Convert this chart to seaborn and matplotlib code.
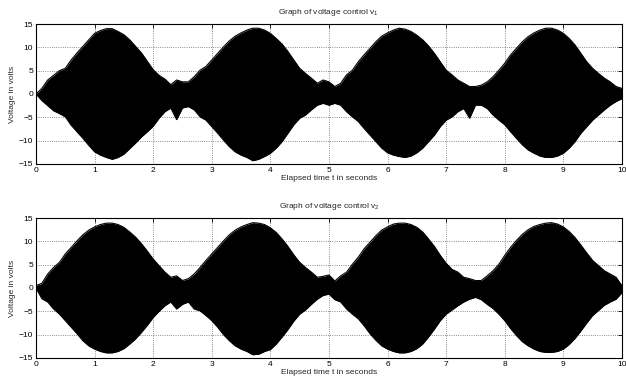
import numpy as np
import pandas as pd
import seaborn as sns
from matplotlib import pyplot as plt

# 时间轴 0 ~ 10 s, 每 0.1 s 读一次包络
t = np.round(np.arange(0, 10.01, 0.1), 1)

# v1 上/下包络
v1_hi = [0, 1.2, 3.0, 4.0, 5.0, 5.5, 7.3, 8.8, 10.2, 11.6, 13.0, 13.6, 14.0, 14.0, 13.4, 12.7, 11.6, 10.2, 8.8, 7.0, 5.2, 4.0, 3.2, 2.0, 3.0,
         2.6, 2.6, 3.7, 5.1, 5.9, 7.3, 8.7, 10.1, 11.4, 12.4, 13.1, 13.7, 14.1, 14.1, 13.7, 13.0, 11.9, 10.7, 9.1, 7.3, 5.5, 4.4, 3.4, 2.3, 3.0,
         2.6, 1.6, 2.3, 4.1, 5.1, 6.9, 8.4, 9.8, 11.2, 12.4, 13.1, 13.7, 14.1, 13.9, 13.4, 12.6, 11.6, 10.3, 8.7, 6.9, 5.1, 4.1, 3.0, 2.3, 1.6,
         1.6, 1.9, 2.6, 3.7, 5.1, 6.6, 8.4, 9.8, 11.2, 12.3, 13.1, 13.7, 14.1, 14.1, 13.7, 13.0, 11.9, 10.5, 8.7, 6.9, 5.5, 4.4, 3.4, 2.6, 1.6,
         1.2]
v1_lo = [0, -1.4, -2.5, -3.6, -4.2, -4.9, -6.7, -8.1, -9.5, -11.0, -12.4, -13.1, -13.6, -14.0, -13.6, -12.9, -11.7, -10.5, -9.2, -8.1, -6.9, -5.2, -3.8, -3.0, -5.5,
         -3.0, -2.7, -3.4, -4.9, -5.6, -7.0, -8.4, -9.9, -11.3, -12.4, -13.1, -13.6, -14.3, -14.0, -13.4, -12.7, -11.6, -10.2, -8.4, -6.6, -5.2, -4.5, -3.4, -2.4, -2.0,
         -2.4, -2.0, -2.4, -3.8, -4.9, -5.9, -7.4, -8.8, -10.2, -11.6, -12.6, -13.1, -13.4, -13.6, -13.3, -12.6, -11.6, -10.2, -8.8, -7.0, -5.6, -4.9, -3.8, -3.1, -5.2,
         -2.4, -2.4, -3.1, -4.5, -5.6, -6.6, -8.1, -9.5, -10.9, -12.0, -12.7, -13.3, -13.6, -13.6, -13.3, -12.7, -11.6, -10.2, -8.4, -7.0, -5.6, -4.5, -3.4, -2.4, -1.6,
         -1.0]

# v2 上/下包络
v2_hi = [0.5, 1.0, 3.0, 4.4, 5.5, 7.3, 8.7, 10.1, 11.4, 12.4, 13.1, 13.6, 13.9, 13.9, 13.6, 13.0, 12.0, 10.9, 9.5, 7.9, 6.2, 4.8, 3.4, 2.3, 2.6,
         1.6, 2.0, 3.0, 4.4, 5.9, 7.3, 8.7, 10.1, 11.4, 12.4, 13.1, 13.6, 14.0, 13.9, 13.6, 12.9, 11.9, 10.5, 8.9, 7.1, 5.5, 4.4, 3.4, 2.3, 2.5,
         2.8, 1.5, 2.6, 3.4, 5.1, 6.6, 8.4, 9.8, 11.2, 12.4, 13.1, 13.7, 13.9, 13.9, 13.6, 13.0, 12.0, 10.5, 8.9, 7.0, 5.3, 4.0, 3.4, 2.3, 2.0,
         1.6, 1.6, 2.6, 3.7, 5.1, 7.0, 8.7, 10.2, 11.5, 12.5, 13.2, 13.6, 13.9, 14.0, 13.7, 13.1, 12.1, 10.8, 9.2, 7.5, 5.9, 4.8, 3.7, 3.0, 2.3,
         0.5]
v2_lo = [0, -2.3, -3.0, -4.5, -5.6, -7.0, -8.4, -9.8, -11.3, -12.4, -13.1, -13.6, -13.9, -13.9, -13.6, -13.0, -12.0, -10.9, -9.5, -8.0, -6.3, -5.0, -3.8, -3.0, -4.5,
         -3.5, -3.0, -4.5, -4.9, -5.9, -7.0, -8.4, -10.0, -11.3, -12.4, -13.1, -13.6, -14.3, -14.2, -13.6, -13.2, -12.0, -10.5, -8.9, -7.1, -5.6, -4.7, -3.5, -2.4, -1.6,
         -1.3, -2.5, -3.0, -4.5, -5.6, -6.6, -8.1, -9.8, -11.2, -12.4, -13.1, -13.6, -13.9, -13.9, -13.6, -13.0, -12.0, -10.5, -8.8, -7.0, -5.6, -4.7, -3.8, -3.0, -2.4,
         -2.0, -2.5, -3.5, -4.4, -5.6, -7.0, -8.7, -10.2, -11.5, -12.4, -13.1, -13.6, -13.8, -13.8, -13.6, -13.1, -12.1, -10.8, -9.2, -7.5, -5.9, -4.8, -3.7, -3.0, -2.4,
         -1.0]

df1 = pd.DataFrame({"t": t, "hi": v1_hi, "lo": v1_lo})
df2 = pd.DataFrame({"t": t, "hi": v2_hi, "lo": v2_lo})

sns.set_style("white")
plt.rcParams['font.family'] = ['Liberation Sans', 'DejaVu Sans']
plt.rcParams['mathtext.default'] = 'regular'
plt.rcParams['font.size'] = 6

fig = plt.figure(figsize=(6.26, 3.81), dpi=100)
ax1 = fig.add_axes([0.0575, 0.5696, 0.936, 0.3674])
ax2 = fig.add_axes([0.0575, 0.0604, 0.936, 0.3674])

for ax, df, name in [(ax1, df1, "1"), (ax2, df2, "2")]:
    # 包络之间填黑, 上下沿再画一次线
    ax.fill_between(df["t"], df["lo"], df["hi"], color="black", linewidth=0)
    sns.lineplot(data=df, x="t", y="hi", ax=ax, color="black", linewidth=0.8)
    sns.lineplot(data=df, x="t", y="lo", ax=ax, color="black", linewidth=0.8)
    ax.set_xlim(0, 10)
    ax.set_ylim(-15, 15)
    ax.set_xticks(range(0, 11))
    ax.set_yticks([-15, -10, -5, 0, 5, 10, 15])
    ax.set_yticklabels(["\u221215", "\u221210", "\u22125", "0", "5", "10", "15"])
    ax.grid(True, linestyle=":", color="#666666", linewidth=0.6)
    ax.tick_params(direction="in", top=True, right=True, length=3, width=0.6,
                   labelsize=6, pad=2, colors="black")
    for s in ax.spines.values():
        s.set_color("black")
        s.set_linewidth(0.8)
    ax.set_xlabel("Elapsed time t in seconds", fontsize=6, labelpad=1)
    ax.set_ylabel("Voltage in volts", fontsize=6, labelpad=2)
    ax.set_title("Graph of voltage control v$_" + name + "$", fontsize=6, pad=7)

plt.savefig("out.png", dpi=100)
